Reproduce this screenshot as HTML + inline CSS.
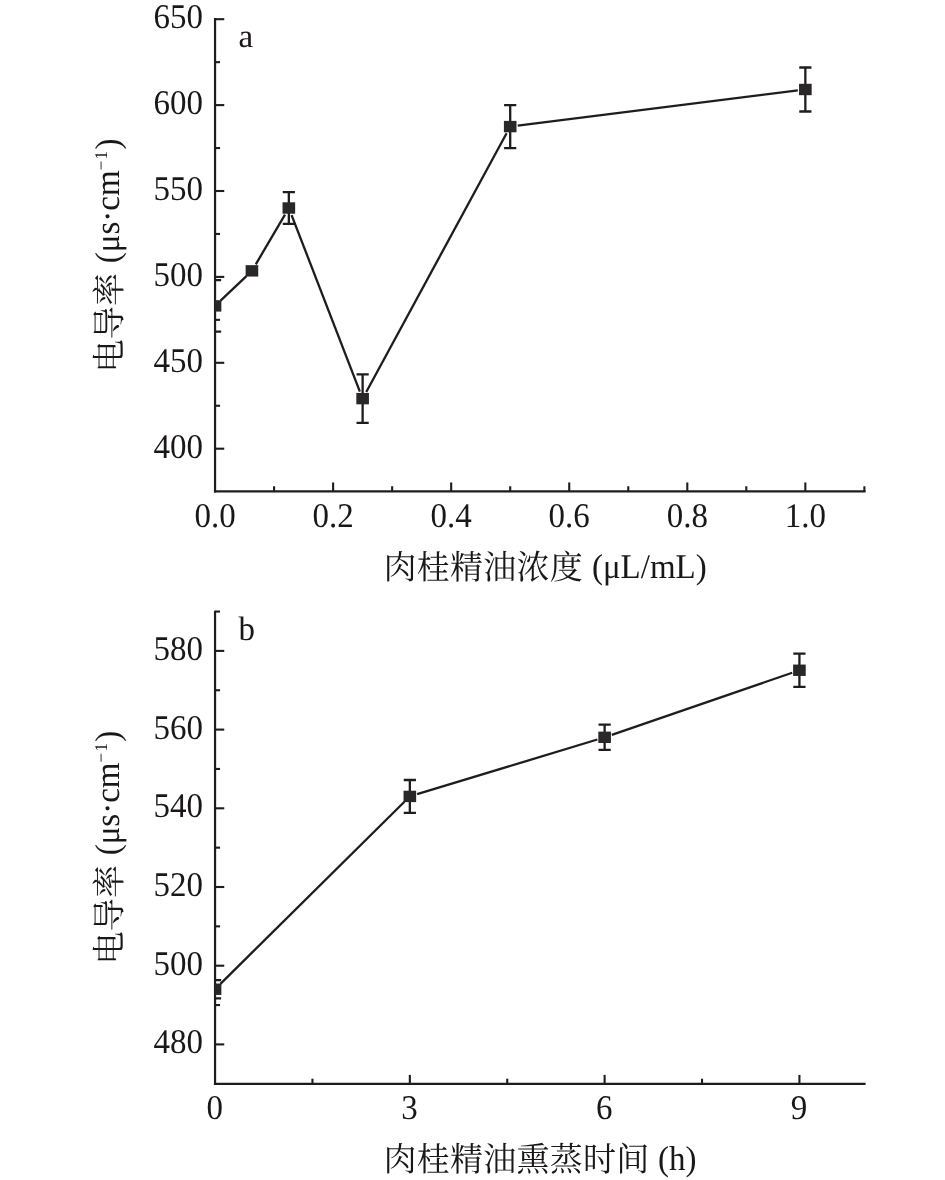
<!DOCTYPE html>
<html lang="zh"><head><meta charset="utf-8"><title>电导率</title>
<style>
html,body{margin:0;padding:0;background:#fff;}
svg{display:block;}
text{font-family:"Liberation Serif", "Noto Serif CJK SC", serif;text-rendering:geometricPrecision;}
</style></head><body>
<svg width="945" height="1180" viewBox="0 0 945 1180">
<rect width="945" height="1180" fill="#fff"/>
<g stroke="#1f1c1d" stroke-width="2.2" fill="none">
<path d="M215.05 18.10V492.55"/>
<path d="M213.95 491.45H865.60"/>
</g>
<g stroke="#1f1c1d" stroke-width="2.1" fill="none">
<path d="M215.05 448.70h9.2"/>
<path d="M215.05 362.80h9.2"/>
<path d="M215.05 276.90h9.2"/>
<path d="M215.05 191.00h9.2"/>
<path d="M215.05 105.10h9.2"/>
<path d="M215.05 19.20h9.2"/>
<path d="M215.05 405.75h5"/>
<path d="M215.05 319.85h5"/>
<path d="M215.05 233.95h5"/>
<path d="M215.05 148.05h5"/>
<path d="M215.05 62.15h5"/>
<path d="M333.11 491.45v-9"/>
<path d="M451.17 491.45v-9"/>
<path d="M569.23 491.45v-9"/>
<path d="M687.29 491.45v-9"/>
<path d="M805.35 491.45v-9"/>
<path d="M274.08 491.45v-5.2"/>
<path d="M392.14 491.45v-5.2"/>
<path d="M510.20 491.45v-5.2"/>
<path d="M628.26 491.45v-5.2"/>
<path d="M746.32 491.45v-5.2"/>
<path d="M864.38 491.45v-5.2"/>
</g>
<g fill="#1a1718">
<text transform="translate(203.00 457.65) scale(1 1.05)" font-size="33" text-anchor="end">400</text>
<text transform="translate(203.00 371.75) scale(1 1.05)" font-size="33" text-anchor="end">450</text>
<text transform="translate(203.00 285.85) scale(1 1.05)" font-size="33" text-anchor="end">500</text>
<text transform="translate(203.00 199.95) scale(1 1.05)" font-size="33" text-anchor="end">550</text>
<text transform="translate(203.00 114.05) scale(1 1.05)" font-size="33" text-anchor="end">600</text>
<text transform="translate(203.00 28.15) scale(1 1.05)" font-size="33" text-anchor="end">650</text>
<text transform="translate(215.05 527.05) scale(1 1.05)" font-size="33" text-anchor="middle">0.0</text>
<text transform="translate(333.11 527.05) scale(1 1.05)" font-size="33" text-anchor="middle">0.2</text>
<text transform="translate(451.17 527.05) scale(1 1.05)" font-size="33" text-anchor="middle">0.4</text>
<text transform="translate(569.23 527.05) scale(1 1.05)" font-size="33" text-anchor="middle">0.6</text>
<text transform="translate(687.29 527.05) scale(1 1.05)" font-size="33" text-anchor="middle">0.8</text>
<text transform="translate(805.35 527.05) scale(1 1.05)" font-size="33" text-anchor="middle">1.0</text>
<text transform="translate(238.40 47.00) scale(1 1.0)" font-size="33" text-anchor="start">a</text>
<text transform="translate(383.50 578.60) scale(1 1.02)" font-size="33" letter-spacing="0.25">肉桂精油浓度</text>
<text transform="translate(591.90 577.60) scale(1 1.05)" font-size="33" text-anchor="start">(μL/mL)</text>
<text transform="translate(120.60 372.40) rotate(-90) scale(1 1.02)" font-size="33" letter-spacing="0.25">电导率</text>
<text transform="translate(118.80 263.15) rotate(-90) scale(1 1.05)" font-size="33" text-anchor="start">(μs·cm<tspan font-size="17" dy="-11.4" letter-spacing="1.3">−1</tspan><tspan dy="11.4">)</tspan></text>
</g>
<clipPath id="ca"><rect x="215.05" y="-0.8000000000000007" width="669.45" height="492.25"/></clipPath>
<g clip-path="url(#ca)">
<g stroke="#1f1c1d" stroke-width="2.3" fill="none">
<path d="M220.56 300.66L246.43 276.09"/>
<path d="M255.79 264.31L284.99 214.55"/>
<path d="M291.58 215.09L359.88 391.55"/>
<path d="M366.25 391.96L506.58 133.27"/>
<path d="M517.74 125.64L797.81 90.44"/>
<path d="M208.95 280.14h12.2M208.95 331.66h12.2"/>
<path d="M288.84 192.20V223.80M282.74 192.20h12.2M282.74 223.80h12.2"/>
<path d="M362.62 374.34V422.95M356.52 374.34h12.2M356.52 422.95h12.2"/>
<path d="M510.20 105.12V148.06M504.10 105.12h12.2M504.10 148.06h12.2"/>
<path d="M805.35 67.51V111.48M799.25 67.51h12.2M799.25 111.48h12.2"/>
</g>
<g fill="#292728">
<rect x="208.75" y="300.20" width="12.6" height="11.4"/>
<rect x="245.64" y="265.16" width="12.6" height="11.4"/>
<rect x="282.54" y="202.30" width="12.6" height="11.4"/>
<rect x="356.32" y="392.94" width="12.6" height="11.4"/>
<rect x="503.90" y="120.89" width="12.6" height="11.4"/>
<rect x="799.05" y="83.79" width="12.6" height="11.4"/>
</g></g>
<g stroke="#1f1c1d" stroke-width="2.2" fill="none">
<path d="M215.05 610.70V1085.00"/>
<path d="M213.95 1083.9H865.60"/>
</g>
<g stroke="#1f1c1d" stroke-width="2.1" fill="none">
<path d="M215.05 1044.40h9.2"/>
<path d="M215.05 965.70h9.2"/>
<path d="M215.05 887.00h9.2"/>
<path d="M215.05 808.30h9.2"/>
<path d="M215.05 729.60h9.2"/>
<path d="M215.05 650.90h9.2"/>
<path d="M215.05 1005.05h5"/>
<path d="M215.05 926.35h5"/>
<path d="M215.05 847.65h5"/>
<path d="M215.05 768.95h5"/>
<path d="M215.05 690.25h5"/>
<path d="M215.05 611.55h5"/>
<path d="M409.84 1083.9v-9"/>
<path d="M604.63 1083.9v-9"/>
<path d="M799.42 1083.9v-9"/>
<path d="M312.45 1083.9v-5.2"/>
<path d="M507.24 1083.9v-5.2"/>
<path d="M702.03 1083.9v-5.2"/>
</g>
<g fill="#1a1718">
<text transform="translate(203.00 1053.35) scale(1 1.05)" font-size="33" text-anchor="end">480</text>
<text transform="translate(203.00 974.65) scale(1 1.05)" font-size="33" text-anchor="end">500</text>
<text transform="translate(203.00 895.95) scale(1 1.05)" font-size="33" text-anchor="end">520</text>
<text transform="translate(203.00 817.25) scale(1 1.05)" font-size="33" text-anchor="end">540</text>
<text transform="translate(203.00 738.55) scale(1 1.05)" font-size="33" text-anchor="end">560</text>
<text transform="translate(203.00 659.85) scale(1 1.05)" font-size="33" text-anchor="end">580</text>
<text transform="translate(214.75 1118.60) scale(1 1.05)" font-size="33" text-anchor="middle">0</text>
<text transform="translate(409.54 1118.60) scale(1 1.05)" font-size="33" text-anchor="middle">3</text>
<text transform="translate(604.33 1118.60) scale(1 1.05)" font-size="33" text-anchor="middle">6</text>
<text transform="translate(799.12 1118.60) scale(1 1.05)" font-size="33" text-anchor="middle">9</text>
<text transform="translate(238.60 639.50) scale(1 1.03)" font-size="33" text-anchor="start">b</text>
<text transform="translate(383.50 1170.50) scale(1 1.02)" font-size="33" letter-spacing="0.25">肉桂精油熏蒸时间</text>
<text transform="translate(658.10 1169.50) scale(1 1.05)" font-size="33" text-anchor="start">(h)</text>
<text transform="translate(120.60 964.60) rotate(-90) scale(1 1.02)" font-size="33" letter-spacing="0.25">电导率</text>
<text transform="translate(118.80 855.35) rotate(-90) scale(1 1.05)" font-size="33" text-anchor="start">(μs·cm<tspan font-size="17" dy="-11.4" letter-spacing="1.3">−1</tspan><tspan dy="11.4">)</tspan></text>
</g>
<clipPath id="cb"><rect x="215.05" y="591.8" width="669.45" height="492.10000000000014"/></clipPath>
<g clip-path="url(#cb)">
<g stroke="#1f1c1d" stroke-width="2.3" fill="none">
<path d="M220.45 983.88L404.44 801.76"/>
<path d="M417.11 794.21L597.36 739.52"/>
<path d="M611.82 734.84L792.23 672.73"/>
<path d="M208.95 980.18h12.2M208.95 998.28h12.2"/>
<path d="M409.84 780.01V812.83M403.74 780.01h12.2M403.74 812.83h12.2"/>
<path d="M604.63 724.72V749.90M598.53 724.72h12.2M598.53 749.90h12.2"/>
<path d="M799.42 653.58V686.94M793.32 653.58h12.2M793.32 686.94h12.2"/>
</g>
<g fill="#292728">
<rect x="208.75" y="983.53" width="12.6" height="11.4"/>
<rect x="403.54" y="790.72" width="12.6" height="11.4"/>
<rect x="598.33" y="731.61" width="12.6" height="11.4"/>
<rect x="793.12" y="664.56" width="12.6" height="11.4"/>
</g></g>
</svg>
</body></html>
